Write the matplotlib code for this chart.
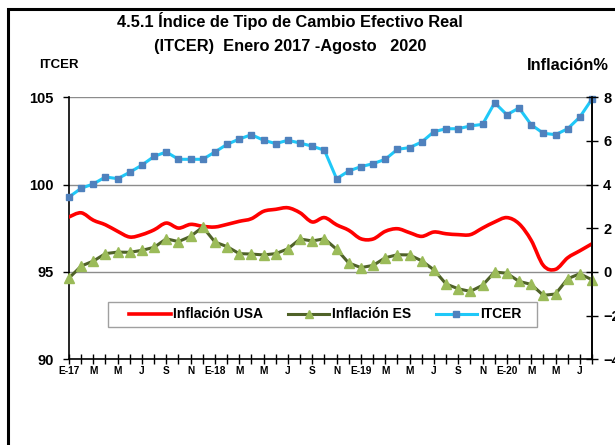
import numpy as np
import matplotlib
matplotlib.use("Agg")
import matplotlib.pyplot as plt
from matplotlib.path import Path
from matplotlib.patches import PathPatch, Rectangle
from matplotlib.lines import Line2D

plt.rcParams['font.family'] = ['Liberation Sans', 'DejaVu Sans']
plt.rcParams['font.weight'] = 'bold'

# meses enero 2017 - agosto 2020
meses = ["E-17", "F", "M", "A", "M", "J", "J", "A", "S", "O", "N", "D",
         "E-18", "F", "M", "A", "M", "J", "J", "A", "S", "O", "N", "D",
         "E-19", "F", "M", "A", "M", "J", "J", "A", "S", "O", "N", "D",
         "E-20", "F", "M", "A", "M", "J", "J", "A"]

itcer = [99.29, 99.79, 100.04, 100.44, 100.34, 100.71, 101.12, 101.62, 101.87, 101.45,
         101.45, 101.45, 101.87, 102.31, 102.61, 102.86, 102.54, 102.35, 102.54, 102.38,
         102.20, 101.97, 100.34, 100.78, 101.03, 101.20, 101.45, 102.02, 102.12, 102.44,
         103.03, 103.20, 103.20, 103.36, 103.45, 104.69, 104.00, 104.39, 103.43, 102.94,
         102.86, 103.20, 103.87, 104.90]

infl_usa = [2.52, 2.71, 2.37, 2.16, 1.86, 1.60, 1.71, 1.93, 2.24, 2.01,
            2.18, 2.09, 2.06, 2.18, 2.32, 2.44, 2.78, 2.87, 2.94, 2.71,
            2.29, 2.49, 2.16, 1.91, 1.52, 1.51, 1.86, 1.98, 1.80, 1.63,
            1.83, 1.75, 1.71, 1.71, 2.01, 2.29, 2.49, 2.21, 1.45, 0.30,
            0.12, 0.65, 0.97, 1.29]

infl_es = [-0.28, 0.27, 0.50, 0.84, 0.91, 0.90, 0.99, 1.13, 1.52, 1.39,
           1.63, 2.06, 1.37, 1.16, 0.84, 0.82, 0.78, 0.84, 1.06, 1.51,
           1.42, 1.52, 1.04, 0.41, 0.20, 0.30, 0.65, 0.79, 0.78, 0.51,
           0.10, -0.55, -0.77, -0.89, -0.61, 0.00, -0.06, -0.43, -0.57, -1.07,
           -1.01, -0.31, -0.08, -0.36]


def smooth_path(x, y):
    # curva suavizada tipo Excel (Catmull-Rom -> Bezier)
    p = np.column_stack([x, y]).astype(float)
    n = len(p)
    verts = [p[0]]
    codes = [Path.MOVETO]
    for i in range(n - 1):
        p0 = p[i - 1] if i > 0 else p[i]
        p3 = p[i + 2] if i + 2 < n else p[i + 1]
        c1 = p[i] + (p[i + 1] - p0) / 6.0
        c2 = p[i + 1] - (p3 - p[i]) / 6.0
        verts += [c1, c2, p[i + 1]]
        codes += [Path.CURVE4] * 3
    return Path(verts, codes)


x = np.arange(len(meses))

W, H = 615, 445
fig = plt.figure(figsize=(6.15, 4.45), dpi=100)
ax = fig.add_axes([69 / W, 1 - 359.3 / H, 523 / W, 262 / H])
ax2 = ax.twinx()

# ITCER eje izquierdo
ax.plot(x, itcer, color="#1FC8F8", lw=2.2, marker="s", ms=4.6,
        mfc="#4F81BD", mec="#4F81BD", zorder=3, clip_on=False)
ax.set_ylim(90, 105)
ax.set_yticks([90, 95, 100, 105])
ax.set_xlim(0, len(meses) - 1)
ax.yaxis.grid(True, color="#8C8C8C", lw=1.0)
ax.set_axisbelow(True)

# inflaciones eje derecho
ax2.add_patch(PathPatch(smooth_path(x, infl_usa), fill=False, ec="#FF0000", lw=2.6,
                        capstyle="round", joinstyle="round"))
ax2.plot(x, infl_es, color="#4F6228", lw=2.2, marker="^", ms=6.5,
         mfc="#9BBB59", mec="#9BBB59", clip_on=False)
ax2.set_ylim(-4, 8)
ax2.set_yticks([-4, -2, 0, 2, 4, 6, 8])

for a in (ax, ax2):
    a.spines["top"].set_visible(False)
    for s in ("left", "right", "bottom"):
        a.spines[s].set_linewidth(1.2)
ax2.spines["left"].set_visible(False)
ax2.spines["bottom"].set_visible(False)

ax.set_xticks(x)
ax.set_xticklabels([m if i % 2 == 0 else "" for i, m in enumerate(meses)])
ax.tick_params(axis="x", direction="inout", length=7, width=1.0, labelsize=7.3, pad=1)
ax.tick_params(axis="y", direction="out", length=4, width=1.0, labelsize=10.5, pad=7)
ax2.tick_params(axis="y", direction="inout", length=8, width=1.0, labelsize=10.5, pad=4)

# leyenda (marco aparte, como en Excel)
fig.patches.append(Rectangle((108 / W, 1 - 327 / H), (537 - 108) / W, 25 / H,
                             transform=fig.transFigure, fill=True, fc="white",
                             ec="#A0A0A0", lw=1.0, zorder=5))
handles = [Line2D([], [], color="#FF0000", lw=2.6),
           Line2D([], [], color="#4F6228", lw=2.2, marker="^", ms=6, mfc="#9BBB59", mec="#9BBB59"),
           Line2D([], [], color="#1FC8F8", lw=2.2, marker="s", ms=4, mfc="#4F81BD", mec="#4F81BD")]
leg = fig.legend(handles, ["Inflación USA", "Inflación ES", "ITCER"], ncol=3,
                 loc="center left", bbox_to_anchor=(129 / W, 1 - 314.5 / H),
                 frameon=False, handlelength=3.0, handletextpad=0.2, columnspacing=1.75,
                 borderpad=0, borderaxespad=0, prop={"weight": "bold", "size": 10})
leg.set_zorder(6)

# titulos
fig.text(290 / W, 1 - 21 / H, "4.5.1 Índice de Tipo de Cambio Efectivo Real",
         ha="center", va="center", fontsize=11.8, fontweight="bold")
fig.text(290 / W, 1 - 46 / H, "(ITCER)  Enero 2017 -Agosto   2020",
         ha="center", va="center", fontsize=11.8, fontweight="bold")
fig.text(39 / W, 1 - 65 / H, "ITCER", ha="left", va="center", fontsize=9.5, fontweight="bold")
fig.text(527 / W, 1 - 66 / H, "Inflación%", ha="left", va="center", fontsize=11.8,
         fontweight="bold")

# marco del grafico
fig.patches.append(Rectangle((7.5 / W, -0.2), 1.5, 1 - 9 / H + 0.2,
                             transform=fig.transFigure, fill=False, ec="black", lw=2.2))

fig.savefig("out.png", dpi=100)
